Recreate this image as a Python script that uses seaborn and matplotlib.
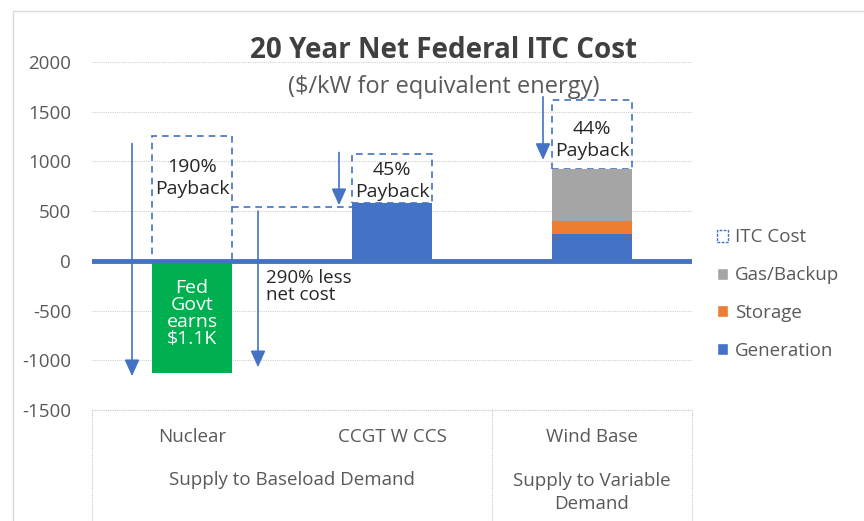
import numpy as np
import pandas as pd
import matplotlib
matplotlib.use('Agg')
import matplotlib.pyplot as plt
import seaborn as sns
from matplotlib.patches import Patch, Rectangle

# Chart values ($/kW)
techs = ['Nuclear', 'CCGT W CCS', 'Wind Base']
generation = [-1130, 580, 270]
storage = [0, 0, 130]
gas_backup = [0, 0, 525]
itc_cost = [1260, 1070, 1620]
payback_labels = ['190%\nPayback', '45%\nPayback', '44%\nPayback']
payback_y = [835, 805, 1215]
groups = ['Supply to Baseload Demand', 'Supply to Variable\nDemand']

# arrows: (bar index, x offset from bar centre, y start, y end)
arrows = [(0, -0.3, 1180, -1160), (0, 0.33, 500, -1070),
          (1, -0.265, 1090, 560), (2, -0.245, 1650, 1015)]
connector_y = 540

blue = '#4472C4'
orange = '#ED7D31'
gray = '#A5A5A5'
green = '#00B050'
txt = '#595959'

sns.set_style('white')
plt.rcParams['font.family'] = ['Open Sans', 'DejaVu Sans']
plt.rcParams['axes.unicode_minus'] = False

df = pd.DataFrame({'tech': techs, 'gen': generation, 'stor': storage,
                   'gas': gas_backup, 'itc': itc_cost})
df['gen_stor'] = df['gen'] + df['stor']
df['total'] = df['gen_stor'] + df['gas']
# ITC outline sits on top of the positive part of each bar
df['itc_base'] = df['total'].clip(lower=0)
df['itc_gap'] = df['itc'] - df['itc_base']

fig = plt.figure(figsize=(8.64, 5.21), dpi=100)
ax = fig.add_axes([92 / 864, 1 - 410 / 521, 600 / 864, 348 / 521])

# dashed ITC cost outline
sns.barplot(data=df, x='tech', y='itc_gap', bottom=df['itc_base'].values,
            width=0.4, fill=False, color=blue, linewidth=1.2, errorbar=None,
            ax=ax, zorder=2)
for b in ax.patches:
    b.set_edgecolor(blue)
    b.set_linestyle((0, (4, 3)))
# stacked bars, drawn from the top layer down
sns.barplot(data=df, x='tech', y='total', width=0.4, color=gray, saturation=1,
            linewidth=0, errorbar=None, ax=ax, zorder=3)
sns.barplot(data=df, x='tech', y='gen_stor', width=0.4, color=orange, saturation=1,
            linewidth=0, errorbar=None, ax=ax, zorder=3)
sns.barplot(data=df, x='tech', y='gen', hue='tech', palette=[green, blue, blue],
            width=0.4, saturation=1, linewidth=0, errorbar=None, legend=False,
            ax=ax, zorder=3)

ax.set_xlim(-0.5, 2.5)
ax.set_ylim(-1500, 2000)
ax.set_yticks(np.arange(-1500, 2001, 500))
ax.set_xticks([])
ax.set_xlabel('')
ax.set_ylabel('')
ax.tick_params(axis='y', labelsize=13.5, colors=txt, length=0, pad=15)
ax.grid(axis='y', color='#D0D0D0', linestyle=(0, (1, 1)), linewidth=0.8)
ax.set_axisbelow(True)
for s in ax.spines.values():
    s.set_visible(False)
ax.axhline(-1500, color='#C8C8C8', linestyle=(0, (1, 1)), linewidth=0.8, clip_on=False)
ax.axhline(0, color=blue, linewidth=3.5, zorder=4)

# connector from nuclear box to CCGT bar
ax.plot([0.2, 0.8], [connector_y, connector_y], color=blue, lw=1.2,
        linestyle=(0, (4, 3)), zorder=2)

for i, (lab, yy) in enumerate(zip(payback_labels, payback_y)):
    ax.text(i, yy, lab, ha='center', va='center', fontsize=14,
            color='#262626', linespacing=1.25, zorder=6)

ax.text(0, -530, 'Fed\nGovt\nearns\n$1.1K', ha='center', va='center',
        fontsize=14, color='white', linespacing=0.92, zorder=6)
ax.text(0.37, -262, '290% less\nnet cost', ha='left', va='center',
        fontsize=13.5, color='#262626', linespacing=0.92, zorder=6)

for i, x0, y0, y1 in arrows:
    ax.annotate('', xy=(i + x0, y1), xytext=(i + x0, y0),
                arrowprops=dict(arrowstyle='-|>,head_length=1.0,head_width=0.45',
                                color=blue, lw=1.2, shrinkA=0, shrinkB=0),
                zorder=5)

# category axis box
for xv in [-0.5, 1.5, 2.5]:
    ax.plot([xv, xv], [-1500, -2800], color='#C8C8C8', lw=0.8,
            linestyle=(0, (1, 1)), clip_on=False)
for i, t in enumerate(techs):
    ax.text(i, -1770, t, ha='center', va='center', fontsize=13.5,
            color=txt, clip_on=False)
ax.text(0.5, -2200, groups[0], ha='center', va='center', fontsize=13.5,
        color=txt, clip_on=False)
ax.text(2, -2330, groups[1], ha='center', va='center', fontsize=13.5,
        color=txt, linespacing=1.3, clip_on=False)

fig.text(444 / 864, 1 - 50 / 521, '20 Year Net Federal ITC Cost', ha='center',
         va='center', fontsize=20, fontweight='bold', color='#404040')
fig.text(444 / 864, 1 - 87 / 521, '($/kW for equivalent energy)', ha='center',
         va='center', fontsize=17, color=txt)

handles = [Patch(facecolor='white', edgecolor=blue, linestyle=(0, (2, 1)), lw=1),
           Patch(facecolor=gray), Patch(facecolor=orange), Patch(facecolor=blue)]
labels = ['ITC Cost', 'Gas/Backup', 'Storage', 'Generation']
fig.legend(handles, labels, loc='center left', bbox_to_anchor=(700 / 864, 1 - 294 / 521),
           frameon=False, fontsize=13.5, handlelength=0.6, handleheight=0.6,
           handletextpad=0.35, labelspacing=1.05, labelcolor=txt)

fig.patches.append(Rectangle((13 / 864, -0.05), 1.0, 1.05 - 11 / 521,
                             transform=fig.transFigure, fill=False,
                             edgecolor='#D9D9D9', lw=1))

fig.savefig('out.png', dpi=100)
